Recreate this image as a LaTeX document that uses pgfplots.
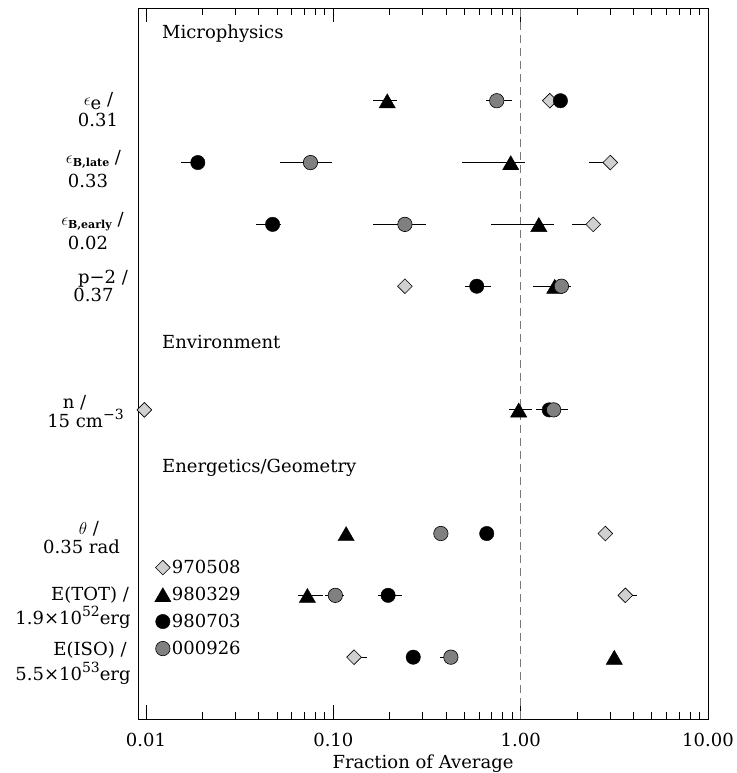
\documentclass[border=0pt]{standalone}
\usepackage{pgfplots}
\pgfplotsset{compat=1.18}
\usepackage{pgfplotstable}
\usepackage{fontspec}
\setmainfont{DejaVu Serif}
\definecolor{dgray}{RGB}{128,128,128}
\definecolor{lgray}{RGB}{208,208,208}
\definecolor{dashc}{RGB}{120,120,120}

% 970508 (diamond)
\pgfplotstableread{
x y em ep
1.43 10 0.08 0.09
3.01 9 0.68 0.20
2.44 8 0.55 0.15
0.241 7 0.01 0.01
0.0098 5 0 0
2.83 3 0 0
3.62 2 0.20 0.57
0.129 1 0.01 0.023
}\tabA
% 980329 (triangle)
\pgfplotstableread{
x y em ep
0.194 10 0.031 0.025
0.885 9 0.40 0.175
1.25 8 0.558 0.25
1.52 7 0.36 0.18
0.976 5 0.113 0.17
0.117 3 0.005 0.005
0.0727 2 0.0083 0.015
3.16 1 0 0
}\tabB
% 980703 (black circle)
\pgfplotstableread{
x y em ep
1.63 10 0 0
0.0189 9 0.0036 0.0017
0.0474 8 0.0089 0.005
0.583 7 0.079 0.109
1.42 5 0 0
0.659 3 0 0
0.196 2 0.023 0.037
0.267 1 0.005 0.02
}\tabC
% 000926 (gray circle)
\pgfplotstableread{
x y em ep
0.745 10 0.094 0.15
0.0755 9 0.0239 0.0233
0.241 8 0.078 0.071
1.65 7 0.10 0.20
1.50 5 0.30 0.28
0.375 3 0.015 0.015
0.1025 2 0.012 0.012
0.424 1 0.053 0.016
}\tabD

\pgfplotsset{ebar/.style={draw=none, mark=none, forget plot, error bars/.cd, x dir=both, x explicit, error mark=none,
  error bar style={draw=black, line width=1bp, solid}}}

% label placed by pixel position of the reference (centre x, baseline y)
\newcommand\lab[3]{\node[anchor=base, inner sep=0pt] at ([shift={({(#1-138)*1bp},{(8-#2)*1bp})}]ax.north west) {#3};}
\newcommand\mysub[1]{\raisebox{-3bp}{\fontsize{11bp}{11bp}\selectfont\textbf{#1}}}
\newcommand\mysup[1]{\raisebox{8bp}{\fontsize{14bp}{14bp}\selectfont #1}}

\begin{document}
\fontsize{18bp}{21bp}\selectfont
\begin{tikzpicture}
\begin{axis}[
  name=ax,
  scale only axis,
  width=570bp, height=711bp,
  xmode=log,
  xmin=0.00906, xmax=10,
  ymin=0, ymax=11.5,
  axis line style={line width=0.8bp},
  tick align=inside,
  major tick length=14bp,
  minor tick length=7bp,
  every tick/.style={black, line width=0.7bp},
  xtick={0.01,0.1,1,10},
  xticklabels={0.01,0.10,1.00,10.00},
  xtick pos=both,
  xticklabel pos=lower,
  xticklabel style={anchor=base, yshift=-27bp},
  xlabel={Fraction of Average},
  xlabel style={at={(axis description cs:0.5,0)}, anchor=base, yshift=-49bp},
  ytick=\empty,
  clip=false,
  legend style={at={(axis cs:0.0111,2.59)}, anchor=north west, draw=none, fill=none,
    inner sep=0pt, row sep=10bp,
    nodes={inner sep=1bp, text height=13bp, text depth=2bp}},
  legend cell align=left,
  legend image code/.code={\draw[#1] plot coordinates {(0bp,0bp)}; \path (-7bp,0bp) (4bp,0bp);},
]
\addplot[forget plot, dashc, line width=1.2bp, dash pattern=on 8bp off 5bp] coordinates {(1,0) (1,11.5)};

\addplot[only marks, mark=square*, mark size=5.2bp, mark options={rotate=45, fill=lgray, draw=black, line width=0.6bp}] table[x=x,y=y] {\tabA};
\addlegendentry{970508}
\addplot[only marks, mark=triangle*, mark size=9.4bp, mark options={fill=black, draw=black, yshift=-2.5bp}] table[x=x,y=y] {\tabB};
\addlegendentry{980329}
\addplot[only marks, mark=*, mark size=7.2bp, mark options={fill=black, draw=black}] table[x=x,y=y] {\tabC};
\addlegendentry{980703}
\addplot[only marks, mark=*, mark size=7.2bp, mark options={fill=dgray, draw=black, line width=0.6bp}] table[x=x,y=y] {\tabD};
\addlegendentry{000926}

\addplot[ebar] table[x=x, y=y, x error minus=em, x error plus=ep] {\tabA};
\addplot[ebar] table[x=x, y=y, x error minus=em, x error plus=ep] {\tabB};
\addplot[ebar] table[x=x, y=y, x error minus=em, x error plus=ep] {\tabC};
\addplot[ebar] table[x=x, y=y, x error minus=em, x error plus=ep] {\tabD};

\node[anchor=base west, inner sep=0pt] at (axis cs:0.01217,11.0) {Microphysics};
\node[anchor=base west, inner sep=0pt] at (axis cs:0.01217,6.0) {Environment};
\node[anchor=base west, inner sep=0pt] at (axis cs:0.01217,3.98) {Energetics/Geometry};
\end{axis}
% category labels
\lab{98.5}{106}{$\epsilon$\raisebox{-4bp}{e} /}
\lab{98}{127}{0.31}
\lab{93.5}{164}{$\epsilon$\mysub{B,late} /}
\lab{88}{188}{0.33}
\lab{92.5}{226}{$\epsilon$\mysub{B,early} /}
\lab{88}{250}{0.02}
\lab{103}{284}{p−2 /}
\lab{93.5}{302}{0.37}
\lab{74.5}{409}{n /}
\lab{85.5}{428}{15 cm\mysup{−3}}
\lab{89}{535}{$\theta$ /}
\lab{81.5}{554}{0.35 rad}
\lab{90}{601}{E(TOT) /}
\lab{73}{625}{1.9×10\mysup{52}erg}
\lab{90}{656}{E(ISO) /}
\lab{73}{681}{5.5×10\mysup{53}erg}
\pgfresetboundingbox
\path[use as bounding box] ([shift={(-138bp,-54bp)}]ax.south west) rectangle ([shift={(29bp,8bp)}]ax.north east);
\end{tikzpicture}
\end{document}
